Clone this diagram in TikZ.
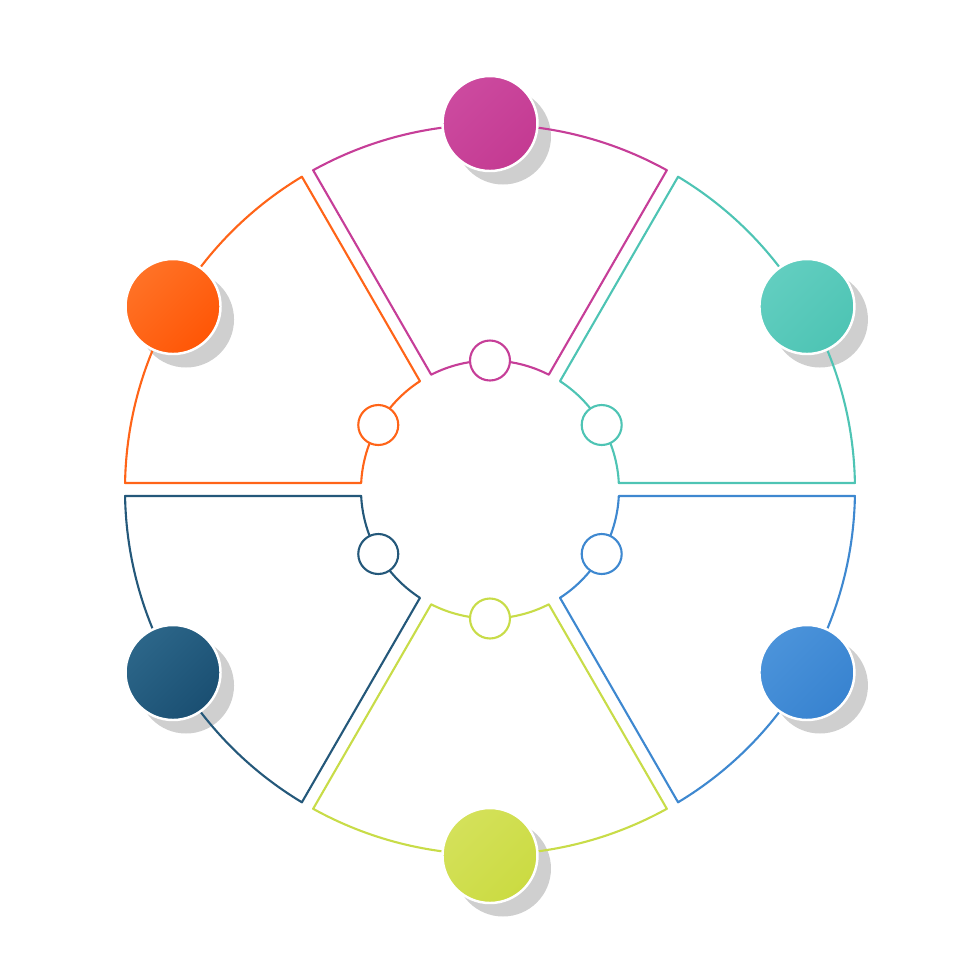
\documentclass[tikz,border=0pt]{standalone}
\usetikzlibrary{positioning}
\definecolor{lnTeal}{HTML}{4EC4B4}
\definecolor{lnMag}{HTML}{C63E98}
\definecolor{lnOrange}{HTML}{FF6418}
\definecolor{lnNavy}{HTML}{24587A}
\definecolor{lnLime}{HTML}{C8DC48}
\definecolor{lnBlue}{HTML}{3E88D0}
\definecolor{hiTeal}{HTML}{62CEC0}
\definecolor{loTeal}{HTML}{4EC4B4}
\definecolor{hiMag}{HTML}{CC4A9F}
\definecolor{loMag}{HTML}{C43A92}
\definecolor{hiOrange}{HTML}{FF7226}
\definecolor{loOrange}{HTML}{FF5606}
\definecolor{hiNavy}{HTML}{2C6689}
\definecolor{loNavy}{HTML}{1A4F72}
\definecolor{hiLime}{HTML}{D4E15A}
\definecolor{loLime}{HTML}{CBDB42}
\definecolor{hiBlue}{HTML}{4B93DA}
\definecolor{loBlue}{HTML}{3883D0}
\begin{document}
\begin{tikzpicture}[line cap=round,line join=round,x=1cm,y=1cm,
  seg/.style={line width=0.6pt},
  bigdot/.style={circle,minimum size=0.95cm,inner sep=0pt,draw=white,line width=0.7pt},
  dotshade/.style={circle,fill=black!19,minimum size=0.96cm,inner sep=0pt},
  hole/.style={circle,fill=white,minimum size=0.40cm,inner sep=0pt,line width=0.6pt}]
\useasboundingbox (-4.90,-4.905) rectangle (4.90,4.895);
\pgfmathsetmacro\gapout{asin(0.065/3.65)}
\pgfmathsetmacro\gapin{asin(0.065/1.29)}
\foreach \a/\c in {0/Teal,60/Mag,120/Orange,180/Navy,240/Lime,300/Blue}
\node[dotshade,xshift=0.13cm,yshift=-0.13cm] (shade\c) at ({\a+30}:3.66) {};
\foreach \a/\c in {0/Teal,60/Mag,120/Orange,180/Navy,240/Lime,300/Blue}
\draw[seg,draw=ln\c] ({\a+\gapin}:1.29) -- ({\a+\gapout}:3.65)
  arc[start angle={\a+\gapout},end angle={\a+60-\gapout},radius=3.65]
  -- ({\a+60-\gapin}:1.29)
  arc[start angle={\a+60-\gapin},end angle={\a+\gapin},radius=1.29] -- cycle;
\foreach \a/\c in {0/Teal,60/Mag,120/Orange,180/Navy,240/Lime,300/Blue}{
\node[bigdot,top color=hi\c,bottom color=lo\c,shading angle=45] (dot\c) at ({\a+30}:3.66) {};
\node[hole,draw=ln\c] (hole\c) at ({\a+30}:1.29) {};
}
\end{tikzpicture}
\end{document}
